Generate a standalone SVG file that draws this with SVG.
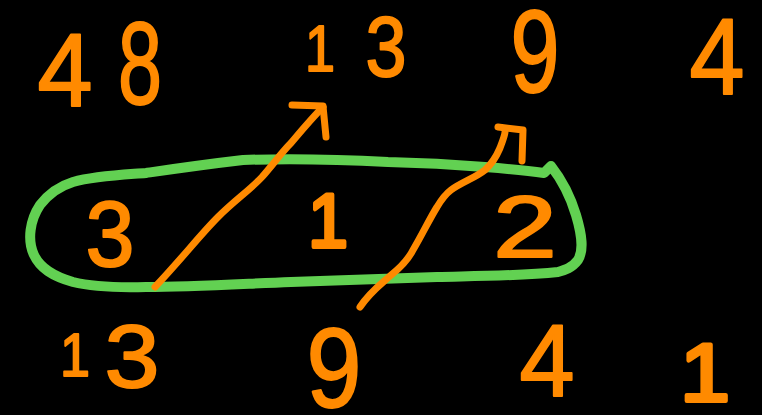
<svg xmlns="http://www.w3.org/2000/svg" width="762" height="415" viewBox="0 0 762 415">
<style>
.d{font-family:"Liberation Sans",Arial,sans-serif;fill:#ff8a00;stroke:#ff8a00;stroke-width:2;stroke-linejoin:round;text-anchor:middle}
.t{stroke-width:4}
.o{fill:none;stroke:#ff8a00;stroke-width:7;stroke-linecap:round;stroke-linejoin:round}
.g{fill:none;stroke:#62d152;stroke-width:10;stroke-linecap:round;stroke-linejoin:round}
</style>
<rect width="762" height="415" fill="#000"/>
<g id="top-row">
<text class="d" x="65" y="106" font-size="104" textLength="55" lengthAdjust="spacingAndGlyphs">4</text>
<text class="d" x="140" y="104" font-size="116" textLength="44" lengthAdjust="spacingAndGlyphs">8</text>
<text class="d" x="320" y="71" font-size="65" textLength="30" lengthAdjust="spacingAndGlyphs">1</text>
<text class="d" x="386" y="76" font-size="86" textLength="41" lengthAdjust="spacingAndGlyphs">3</text>
<text class="d" x="535" y="92" font-size="116" textLength="49" lengthAdjust="spacingAndGlyphs">9</text>
<text class="d" x="717" y="94" font-size="108" textLength="55" lengthAdjust="spacingAndGlyphs">4</text>
</g>
<g id="loop">
<path class="g" d="M146 173 C180 168 200 165 243 160 C300 158 350 160 388 162 C430 163 460 165 485 167 C510 169 530 171 544 173 L551 166 C562 180 570 195 576 215 C582 235 584 250 578 260 C572 268 565 270 558 272 C520 276 480 276 437 277 C390 279 340 280 291 282 C240 284 190 287 146 287 C110 288 85 285 73 282 C52 276 40 268 34 255 C27 240 30 220 40 205 C50 192 60 186 73 182 C95 176 120 175 146 173 Z"/>
</g>
<g id="middle-row">
<text class="d" x="110" y="266" font-size="93" textLength="49" lengthAdjust="spacingAndGlyphs">3</text>
<text class="d t" x="328" y="247" font-size="76" textLength="40" lengthAdjust="spacingAndGlyphs">1</text>
<text class="d" x="525" y="257" font-size="87" textLength="64" lengthAdjust="spacingAndGlyphs">2</text>
</g>
<g id="connectors">
<path class="o" d="M155 287 C185 255 200 235 218 217 C235 200 250 190 262 177 C275 162 282 152 291 143 C302 130 312 118 323 107"/>
<path class="o" d="M292 105 L323 106 L326 137"/>
<path class="o" d="M360 307 C370 292 380 285 390 276 C400 268 408 260 413 250 C422 235 430 218 437 207 C443 197 447 193 451 190 C462 182 475 178 485 170 C493 163 497 155 500 148 C503 140 505 135 505 132"/>
<path class="o" d="M498 127 L523 130 L522 161"/>
</g>
<g id="bottom-row">
<text class="d" x="75" y="376" font-size="62" textLength="30" lengthAdjust="spacingAndGlyphs">1</text>
<text class="d" x="132" y="387" font-size="89" textLength="55" lengthAdjust="spacingAndGlyphs">3</text>
<text class="d" x="334" y="407" font-size="114" textLength="55" lengthAdjust="spacingAndGlyphs">9</text>
<text class="d" x="547" y="396" font-size="102" textLength="55" lengthAdjust="spacingAndGlyphs">4</text>
<text class="d t" x="705" y="401" font-size="82" textLength="50" lengthAdjust="spacingAndGlyphs">1</text>
</g>
</svg>
